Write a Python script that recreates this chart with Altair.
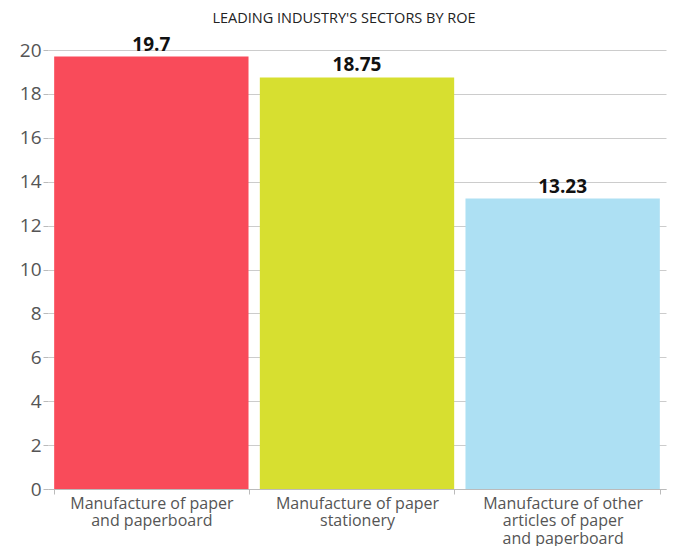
import altair as alt
import pandas as pd

categories = ["Manufacture of paper|and paperboard",
              "Manufacture of paper|stationery",
              "Manufacture of other|articles of paper|and paperboard"]
values = [19.7, 18.75, 13.23]
labels = ["19.7", "18.75", "13.23"]
colors = ["#F94B5A", "#D7DF30", "#ADE0F3"]

df = pd.DataFrame({"cat": categories, "val": values, "lab": labels})

x = alt.X("cat:N", sort=categories, title=None,
          scale=alt.Scale(paddingInner=0.055, paddingOuter=0.03),
          axis=alt.Axis(labelAngle=0, labelExpr="split(datum.label, '|')",
                        labelFont="Open Sans", labelFontSize=16, labelColor="#555555",
                        labelLineHeight=17.5, tickBand="extent", tickColor="#bbbbbb",
                        domainColor="#bbbbbb", tickSize=5, labelPadding=1,
                        labelBaseline="top"))

bars = alt.Chart(df).mark_bar().encode(
    x=x,
    y=alt.Y("val:Q", title=None,
            scale=alt.Scale(domain=[0, 20], nice=False),
            axis=alt.Axis(values=list(range(0, 21, 2)), labelFont="Open Sans",
                          labelFontSize=19, labelColor="#555555", domain=False,
                          tickColor="#bbbbbb", tickSize=5, gridColor="#cccccc",
                          labelPadding=2)),
    color=alt.Color("cat:N", sort=categories,
                    scale=alt.Scale(domain=categories, range=colors), legend=None),
)

text = alt.Chart(df).mark_text(dy=-6, baseline="alphabetic", font="Open Sans",
                               fontWeight="bold", fontSize=19,
                               color="#111111").encode(
    x=alt.X("cat:N", sort=categories),
    y="val:Q",
    text="lab:N",
)

chart = (bars + text).properties(
    width=618, height=439,
    title=alt.TitleParams("LEADING INDUSTRY'S SECTORS BY ROE", font="Open Sans",
                          fontSize=14.5, fontWeight="normal", color="#222222",
                          anchor="middle", offset=9, dx=-13),
    autosize=alt.AutoSizeParams(type="none"),
    padding={"left": 40, "top": 42, "right": 5, "bottom": 58},
).configure_view(stroke=None)

chart.save("out.html", embed_options={"renderer": "svg", "actions": False})
